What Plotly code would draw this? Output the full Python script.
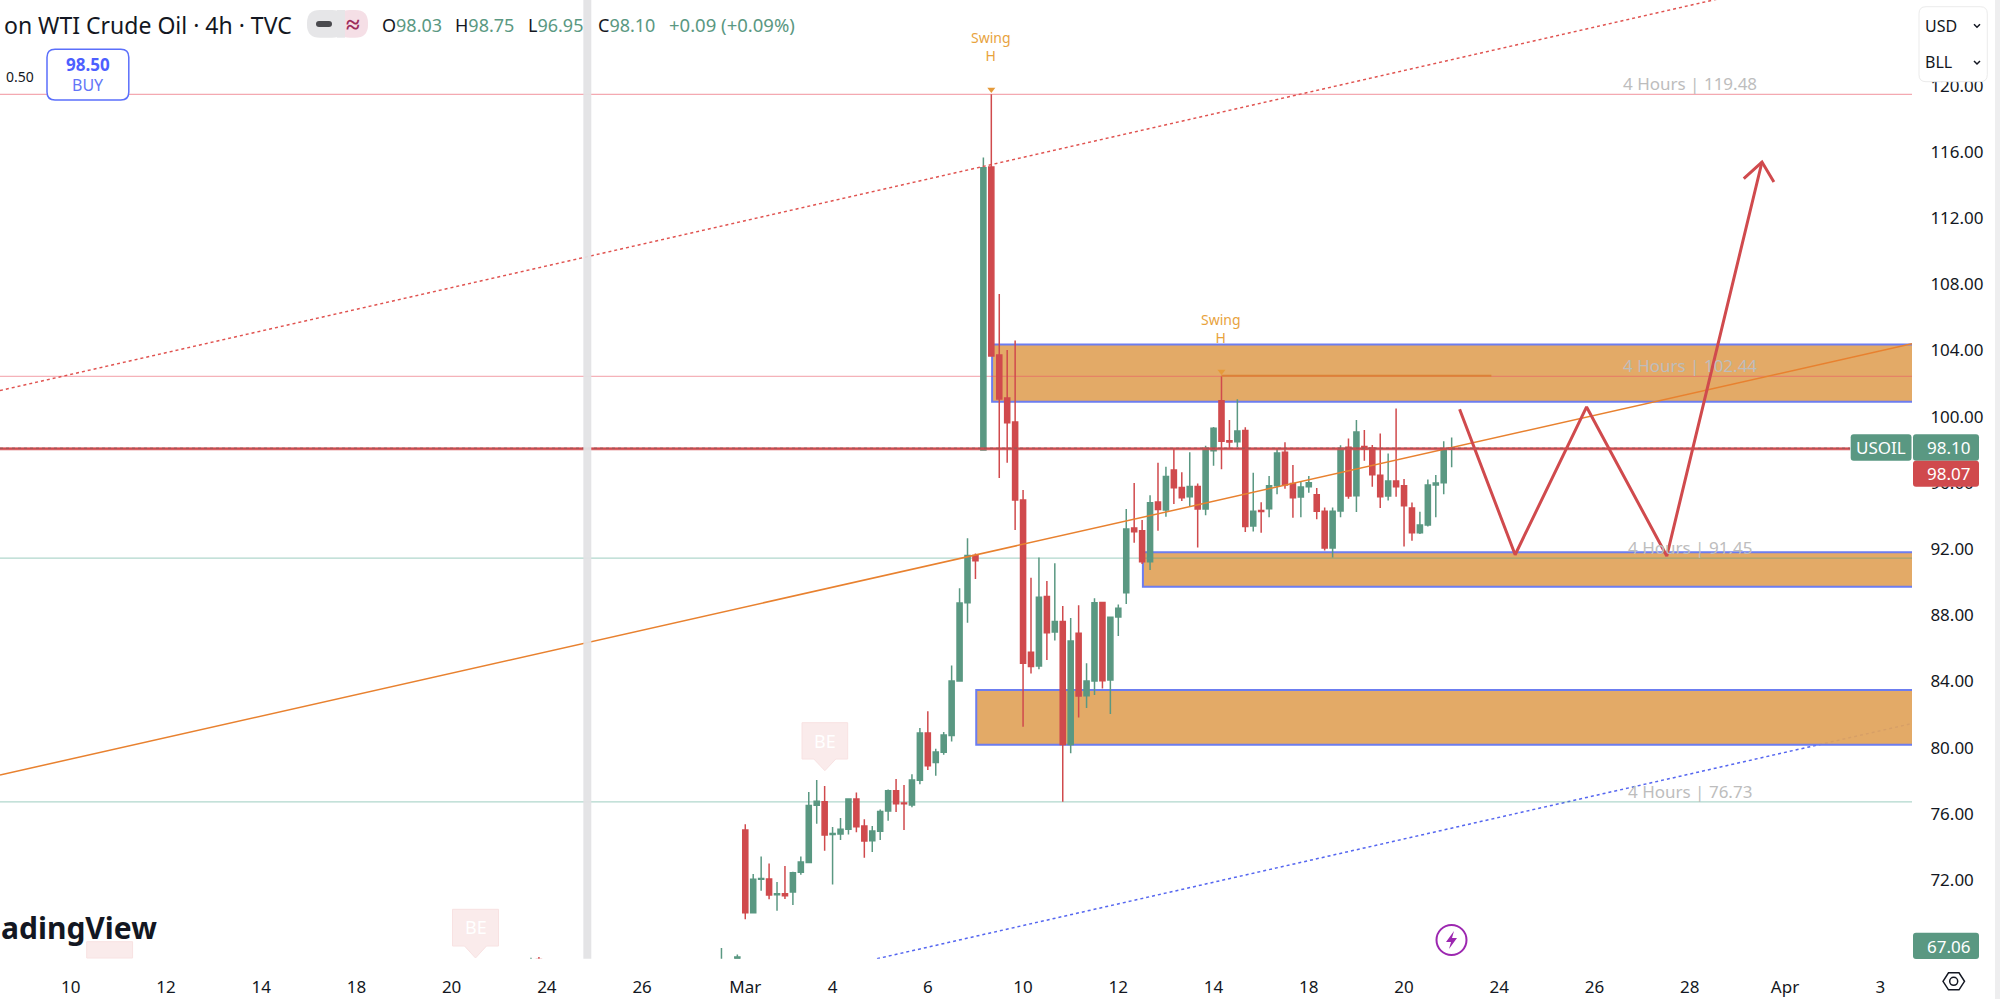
import plotly.graph_objects as go

# USOIL 4h candles; bar 0 is the first bar of March, later bars follow in session order
bar_index = [-27, -26, -3, -1] + list(range(90))
bar_open = [66.0, 67.2, 66.2, 66.8,
    75.03, 70.03, 72.05, 72.07, 71.12, 71.18, 71.28, 72.47, 73.07, 76.52,
    76.74, 74.75, 74.79, 75.07, 76.90, 75.27, 74.38, 74.95, 76.17, 77.40,
    76.66, 76.54, 78.03, 80.89, 79.10, 79.72, 80.73, 84.03, 88.76, 91.62,
    97.99, 115.09, 103.73, 101.13, 99.68, 94.97, 85.76, 84.94, 89.13, 86.99,
    87.62, 80.20, 86.91, 83.14, 84.03, 88.78, 84.09, 87.90, 89.37, 93.27,
    93.11, 91.24, 94.84, 94.36, 96.78, 95.73, 95.17, 95.79, 94.42, 97.95,
    100.97, 98.55, 98.49, 99.16, 93.40, 94.33, 94.44, 95.83, 97.85, 95.97,
    95.15, 95.77, 95.29, 94.28, 92.07, 94.30, 98.15, 95.23, 98.20, 98.11,
    96.46, 95.21, 96.11, 95.83, 94.48, 92.99, 93.46, 95.87, 96.01, 98.03]
bar_high = [67.3, 67.35, 67.9, 67.5,
    75.37, 72.37, 73.42, 73.00, 71.88, 72.85, 72.51, 73.42, 77.32, 78.05,
    77.69, 75.21, 75.75, 76.90, 77.30, 75.67, 75.27, 76.27, 77.48, 78.11,
    77.75, 78.39, 81.19, 82.20, 79.94, 80.95, 84.96, 89.63, 92.65, 91.74,
    115.67, 119.48, 107.41, 104.03, 104.60, 95.57, 90.27, 91.50, 90.07, 91.14,
    88.56, 87.84, 88.60, 85.10, 89.03, 88.78, 87.88, 88.66, 94.42, 96.00,
    93.76, 95.25, 97.22, 96.98, 98.09, 96.64, 97.85, 95.97, 98.25, 99.38,
    102.44, 99.80, 101.05, 99.36, 96.62, 94.83, 96.42, 98.09, 98.45, 97.08,
    96.07, 96.42, 95.69, 94.52, 94.52, 98.27, 98.69, 99.80, 99.20, 98.29,
    98.99, 97.77, 100.49, 96.24, 94.81, 94.26, 96.20, 96.48, 98.51, 98.75]
bar_low = [65.0, 65.4, 65.5, 66.0,
    69.63, 70.00, 71.36, 70.84, 70.15, 70.86, 70.50, 72.33, 73.03, 75.41,
    73.78, 71.74, 74.42, 74.75, 74.89, 73.35, 73.70, 74.42, 75.59, 76.11,
    75.03, 76.40, 77.79, 78.65, 78.31, 79.58, 80.37, 83.99, 87.55, 90.20,
    97.99, 103.67, 96.30, 97.22, 93.15, 81.27, 84.49, 84.74, 85.30, 86.47,
    76.73, 79.66, 81.83, 82.40, 83.18, 83.57, 82.04, 86.75, 88.68, 92.39,
    91.10, 90.74, 93.11, 93.96, 94.73, 94.91, 94.56, 92.10, 94.04, 97.04,
    96.82, 98.09, 98.15, 93.03, 93.07, 92.99, 93.92, 95.31, 95.65, 93.90,
    93.92, 95.41, 93.80, 91.91, 91.50, 93.92, 95.05, 94.24, 97.34, 95.77,
    94.49, 94.93, 95.17, 92.15, 92.51, 92.91, 93.36, 93.92, 95.31, 96.95]
bar_close = [66.6, 66.5, 67.0, 67.35,
    70.03, 72.05, 72.10, 71.10, 71.18, 71.06, 72.45, 73.09, 76.50, 76.76,
    74.72, 74.82, 75.07, 76.90, 75.23, 74.36, 74.97, 76.15, 77.40, 76.62,
    76.62, 78.05, 80.89, 78.91, 79.74, 80.77, 84.03, 88.74, 91.62, 91.30,
    115.05, 103.67, 101.07, 99.64, 94.97, 85.10, 84.90, 89.09, 86.95, 87.62,
    80.20, 86.45, 83.12, 84.03, 88.76, 84.05, 87.88, 88.42, 93.21, 93.05,
    91.24, 94.80, 94.40, 96.38, 95.71, 95.11, 95.79, 94.42, 98.09, 99.30,
    98.51, 98.47, 99.14, 93.36, 94.28, 94.27, 95.83, 97.81, 95.87, 95.11,
    95.75, 96.01, 94.28, 92.07, 94.28, 98.09, 95.21, 99.07, 98.05, 96.50,
    95.17, 96.11, 95.77, 94.62, 92.99, 93.46, 95.87, 96.00, 98.03, 98.10]

# axis ticks
time_tick_bars = [-85, -73, -61, -49, -37, -25, -13, 0, 11, 23, 35, 47, 59, 71, 83, 95, 107, 119, 131, 143]
time_tick_text = ["10", "12", "14", "18", "20", "24", "26", "Mar", "4", "6", "10", "12", "14", "18",
                  "20", "24", "26", "28", "Apr", "3"]
price_ticks = [72, 76, 80, 84, 88, 92, 96, 100, 104, 108, 112, 116, 120]

# drawn levels and zones
level_prices = [119.48, 102.44, 91.45, 76.73]
zone_left_bars = [31, 50, 29]
zone_tops = [104.37, 91.81, 83.49]
zone_bottoms = [100.91, 89.73, 80.18]
last_price = 98.10
bid_price = 98.07

# trend lines, as (bar, price) end points
orange_trend_bars = [-93.9, 147.0]
orange_trend_prices = [78.35, 104.41]
red_trend_bars = [-93.9, 123.0]
red_trend_prices = [101.58, 125.29]
blue_trend_bars = [16.6, 147.0]
blue_trend_prices = [67.25, 81.46]

# projected path with its arrow head
path_bars = [90.0, 97.0, 106.0, 116.1, 128.1]
path_prices = [100.45, 91.66, 100.59, 91.58, 115.39]
head_bars = [125.8, 128.1, 129.6]
head_prices = [114.39, 115.39, 114.18]

swing_bars = [31, 60]
swing_highs = [119.48, 102.44]
swing_markers = [119.77, 102.73]

GREEN = "#5A9882"
RED = "#D04A4D"
ZONE_EDGE = "#6C7DF0"
SWING = "#E8A33D"
FONT = "Noto Sans"
INK = "#131722"

X_MIN, X_MAX = -93.9, 147.0
Y_MIN, Y_MAX = 67.25, 125.18
W, H = 2000, 999


def fx(px):
    return px / W


def fy(py):
    return 1 - py / H


def poly(points, close=True):
    d = "M" + " L".join(f"{fx(x):.5f},{fy(y):.5f}" for x, y in points)
    return d + (" Z" if close else "")


def rrect(x0, y0, x1, y1, r=6):
    p = lambda x, y: f"{fx(x):.5f},{fy(y):.5f}"
    return (f"M{p(x0 + r, y0)} L{p(x1 - r, y0)} Q{p(x1, y0)} {p(x1, y0 + r)} L{p(x1, y1 - r)} "
            f"Q{p(x1, y1)} {p(x1 - r, y1)} L{p(x0 + r, y1)} Q{p(x0, y1)} {p(x0, y1 - r)} "
            f"L{p(x0, y0 + r)} Q{p(x0, y0)} {p(x0 + r, y0)} Z")


fig = go.Figure()

fig.add_trace(go.Candlestick(
    x=bar_index, open=bar_open, high=bar_high, low=bar_low, close=bar_close,
    increasing=dict(line=dict(color=GREEN, width=1.5), fillcolor=GREEN),
    decreasing=dict(line=dict(color=RED, width=1.5), fillcolor=RED),
    whiskerwidth=0, hoverinfo="skip", showlegend=False))

fig.add_trace(go.Scatter(x=red_trend_bars, y=red_trend_prices, mode="lines",
                         line=dict(color="#E0524F", width=1.5, dash="dot"), hoverinfo="skip", showlegend=False))
fig.add_trace(go.Scatter(x=orange_trend_bars, y=orange_trend_prices, mode="lines",
                         line=dict(color="#E8812F", width=1.5), hoverinfo="skip", showlegend=False))

# bid and last-price lines stop at the symbol tag
fig.add_trace(go.Scatter(x=[X_MIN, 139.2], y=[bid_price, bid_price], mode="lines",
                         line=dict(color="rgba(208,74,77,0.45)", width=3.5), hoverinfo="skip", showlegend=False))
fig.add_trace(go.Scatter(x=[X_MIN, 139.2], y=[bid_price, bid_price], mode="lines",
                         line=dict(color=RED, width=2), hoverinfo="skip", showlegend=False))
fig.add_trace(go.Scatter(x=[X_MIN, 139.2], y=[last_price, last_price], mode="lines",
                         line=dict(color="#8E5A5A", width=1, dash="dot"), hoverinfo="skip", showlegend=False))

fig.add_trace(go.Scatter(x=[swing_bars[1], 94], y=[swing_highs[1] + 0.04] * 2, mode="lines",
                         line=dict(color="#DC8237", width=2), hoverinfo="skip", showlegend=False))
fig.add_trace(go.Scatter(x=swing_bars, y=swing_markers, mode="markers",
                         marker=dict(symbol="triangle-down", size=7, color="#E59A3A"),
                         hoverinfo="skip", showlegend=False))

fig.add_trace(go.Scatter(x=path_bars, y=path_prices, mode="lines",
                         line=dict(color=RED, width=3), hoverinfo="skip", showlegend=False))
fig.add_trace(go.Scatter(x=head_bars, y=head_prices, mode="lines",
                         line=dict(color=RED, width=3), hoverinfo="skip", showlegend=False))

shapes = []

# faded marks that sit behind the candles
be_boxes = [(802, 722.7, 847.7, 759, 770.7), (452.5, 909.3, 498.5, 946, 958.0)]
for x0, y0, x1, y1, tip in be_boxes:
    mid = (x0 + x1) / 2
    shapes.append(dict(type="path", layer="below", xref="paper", yref="paper",
                       path=poly([(x0, y0), (x1, y0), (x1, y1), (mid + 11, y1), (mid, tip), (mid - 11, y1), (x0, y1)]),
                       fillcolor="#FAEBEB", line=dict(color="#F8E2E2", width=1)))
shapes.append(dict(type="path", layer="below", xref="paper", yref="paper",
                   path=poly([(86.7, 958), (86.7, 941.7), (132.6, 941.7), (132.6, 958)]),
                   fillcolor="#FAEBEB", line=dict(color="#F8E2E2", width=1)))

shapes.append(dict(type="line", layer="below", xref="x", yref="y",
                   x0=blue_trend_bars[0], y0=blue_trend_prices[0], x1=blue_trend_bars[1], y1=blue_trend_prices[1],
                   line=dict(color="#5566F0", width=1.5, dash="dot")))

for left, top, bottom in zip(zone_left_bars, zone_tops, zone_bottoms):
    shapes.append(dict(type="rect", layer="below", xref="x", yref="y",
                       x0=left + 0.1, x1=X_MAX + 3, y0=bottom, y1=top,
                       fillcolor="rgba(225,164,91,0.93)", line=dict(color=ZONE_EDGE, width=2)))

level_colors = ["rgba(233,84,100,0.5)", "rgba(233,84,100,0.45)", "rgba(70,160,135,0.42)", "rgba(70,160,135,0.42)"]
for level, colour in zip(level_prices, level_colors):
    shapes.append(dict(type="line", layer="below", xref="x", yref="y",
                       x0=X_MIN, x1=X_MAX + 1, y0=level, y1=level, line=dict(color=colour, width=1.2)))

# session break strip
shapes.append(dict(type="rect", layer="above", xref="x", yref="paper", x0=-20.4, x1=-19.4,
                   y0=fy(958.7), y1=1, fillcolor="#E3E3E5", line=dict(width=0), opacity=0.95))
# right window edge
shapes.append(dict(type="rect", layer="above", xref="paper", yref="paper", x0=fx(1995), x1=1, y0=0, y1=1,
                   fillcolor="#EEEEEF", line=dict(width=0)))

# price tags on the scale
shapes.append(dict(type="path", layer="above", xref="paper", yref="paper", path=rrect(1850.7, 434.3, 1911.5, 460.7, 3),
                   fillcolor=GREEN, line=dict(width=0)))
shapes.append(dict(type="path", layer="above", xref="paper", yref="paper", path=rrect(1913, 434.3, 1979, 460.7, 3),
                   fillcolor=GREEN, line=dict(width=0)))
shapes.append(dict(type="path", layer="above", xref="paper", yref="paper", path=rrect(1913, 460.7, 1979, 486.7, 3),
                   fillcolor=RED, line=dict(width=0)))
shapes.append(dict(type="path", layer="above", xref="paper", yref="paper", path=rrect(1913, 932.7, 1979, 959, 3),
                   fillcolor=GREEN, line=dict(width=0)))

# currency and unit selector
shapes.append(dict(type="path", layer="above", xref="paper", yref="paper", path=rrect(1919, 6.7, 1987.3, 81.7, 7),
                   fillcolor="#FFFFFF", line=dict(color="#EBEBEB", width=1)))
for cy in (25.7, 62.5):
    shapes.append(dict(type="path", layer="above", xref="paper", yref="paper",
                       path=poly([(1974, cy - 1.5), (1977, cy + 1.5), (1980, cy - 1.5)], close=False),
                       line=dict(color="#131722", width=1.5)))

# order ticket
shapes.append(dict(type="path", layer="above", xref="paper", yref="paper", path=rrect(47, 49.3, 128.8, 100, 8),
                   fillcolor="#FFFFFF", line=dict(color="#5B6FFB", width=1.5)))

# indicator pill in the header
shapes.append(dict(type="path", layer="above", xref="paper", yref="paper", path=rrect(307, 10, 345, 37.7, 13),
                   fillcolor="#E6E6E8", line=dict(width=0)))
shapes.append(dict(type="path", layer="above", xref="paper", yref="paper", path=rrect(337, 10, 368, 37.7, 13),
                   fillcolor="#F5DFE6", line=dict(width=0)))
shapes.append(dict(type="rect", layer="above", xref="paper", yref="paper", x0=fx(337), x1=fx(345),
                   y0=fy(37.7), y1=fy(10), fillcolor="#E6E6E8", line=dict(width=0)))
shapes.append(dict(type="path", layer="above", xref="paper", yref="paper", path=rrect(316, 21, 332, 27, 3),
                   fillcolor="#4A4A4E", line=dict(width=0)))

# lightning badge
shapes.append(dict(type="circle", layer="above", xref="paper", yref="paper",
                   x0=fx(1436.5), x1=fx(1466.5), y0=fy(955), y1=fy(925),
                   fillcolor="#FFFFFF", line=dict(color="#9C27B0", width=2)))
shapes.append(dict(type="path", layer="above", xref="paper", yref="paper",
                   path=poly([(1454, 931), (1446, 942), (1451, 942), (1449, 949), (1457, 938), (1452, 938)]),
                   fillcolor="#9C27B0", line=dict(width=0)))

# settings nut on the time scale
shapes.append(dict(type="path", layer="above", xref="paper", yref="paper",
                   path=poly([(1943, 981.3), (1948.5, 972.8), (1959, 972.8), (1964.5, 981.3), (1959, 989.8), (1948.5, 989.8)]),
                   line=dict(color="#131722", width=1.5)))
shapes.append(dict(type="circle", layer="above", xref="paper", yref="paper",
                   x0=fx(1949.7), x1=fx(1957.7), y0=fy(985.3), y1=fy(977.3), line=dict(color="#131722", width=1.5)))

annotations = []


def label(px, py, text, size, color, anchor="left", font=FONT):
    annotations.append(dict(xref="paper", yref="paper", x=fx(px), y=fy(py), text=text, showarrow=False,
                            xanchor=anchor, yanchor="middle", borderpad=0,
                            font=dict(family=font, size=size, color=color)))


label(3, 25, "on WTI Crude Oil · 4h · TVC", 23, INK)
label(352.5, 23, "<b>≈</b>", 25, "#9C2C5C", anchor="center")
ohlc_x = [380.6, 454, 527, 597]
ohlc_keys = ["O", "H", "L", "C"]
ohlc_vals = ["98.03", "98.75", "96.95", "98.10"]
for x_pos, key, val in zip(ohlc_x, ohlc_keys, ohlc_vals):
    label(x_pos, 25, f'<span style="color:{INK}">{key}</span>{val}', 18, GREEN)
label(668, 25, "+0.09 (+0.09%)", 18.5, GREEN)

label(5, 76, "0.50", 14, INK)
label(87.9, 64, "<b>98.50</b>", 17, "#4D5FFF", anchor="center")
label(87.9, 85, "BUY", 16, "#6375F7", anchor="center")

label(0, 927, "<b>adingView</b>", 30, INK)
label(825, 741, "BE", 18, "#FFFFFF", anchor="center")
label(475.5, 927, "BE", 18, "#FFFFFF", anchor="center")

label(1924, 25.7, "USD", 16, INK)
label(1924, 62.5, "BLL", 16, INK)

label(1881, 447.5, "USOIL", 17, "#FFFFFF", anchor="center")
label(1926, 447.5, f"{last_price:.2f}", 17, "#FFFFFF")
label(1926, 473.7, f"{bid_price:.2f}", 17, "#FFFFFF")
label(1926, 946, "67.06", 17, "#FFFFFF")

for bar, high in zip(swing_bars, swing_highs):
    annotations.append(dict(xref="x", yref="y", x=bar, y=high, text="Swing<br>H", showarrow=False,
                            xanchor="center", yanchor="bottom", yshift=27, align="center",
                            font=dict(family=FONT, size=14, color=SWING)))

for level in level_prices:
    annotations.append(dict(xref="x", yref="y", x=119, y=level, text=f"4 Hours | {level:.2f}", showarrow=False,
                            xanchor="center", yanchor="bottom", yshift=-3,
                            font=dict(family=FONT, size=17, color="#BDBDBD")))

fig.update_layout(
    width=W, height=H,
    margin=dict(l=0, r=0, t=0, b=0),
    paper_bgcolor="#FFFFFF", plot_bgcolor="#FFFFFF",
    showlegend=False,
    boxgap=0.2, boxgroupgap=0.2,
    shapes=shapes,
    annotations=annotations,
    font=dict(family=FONT, color=INK),
    xaxis=dict(domain=[0, 1912 / W], range=[X_MIN, X_MAX], rangeslider=dict(visible=False),
               tickmode="array", tickvals=time_tick_bars, ticktext=time_tick_text,
               ticks="outside", ticklen=13, tickcolor="rgba(0,0,0,0)", showgrid=False, zeroline=False,
               showline=False, tickfont=dict(family=FONT, size=17, color=INK)),
    yaxis=dict(domain=[1 - 958.7 / H, 1], range=[Y_MIN, Y_MAX], side="right",
               tickmode="array", tickvals=price_ticks, ticktext=[f"{p:.2f}" for p in price_ticks],
               ticks="outside", ticklen=14, tickcolor="rgba(0,0,0,0)", showgrid=False, zeroline=False,
               showline=False, tickfont=dict(family=FONT, size=17, color=INK)),
)

fig.write_html("out.html", config=dict(displayModeBar=False))
